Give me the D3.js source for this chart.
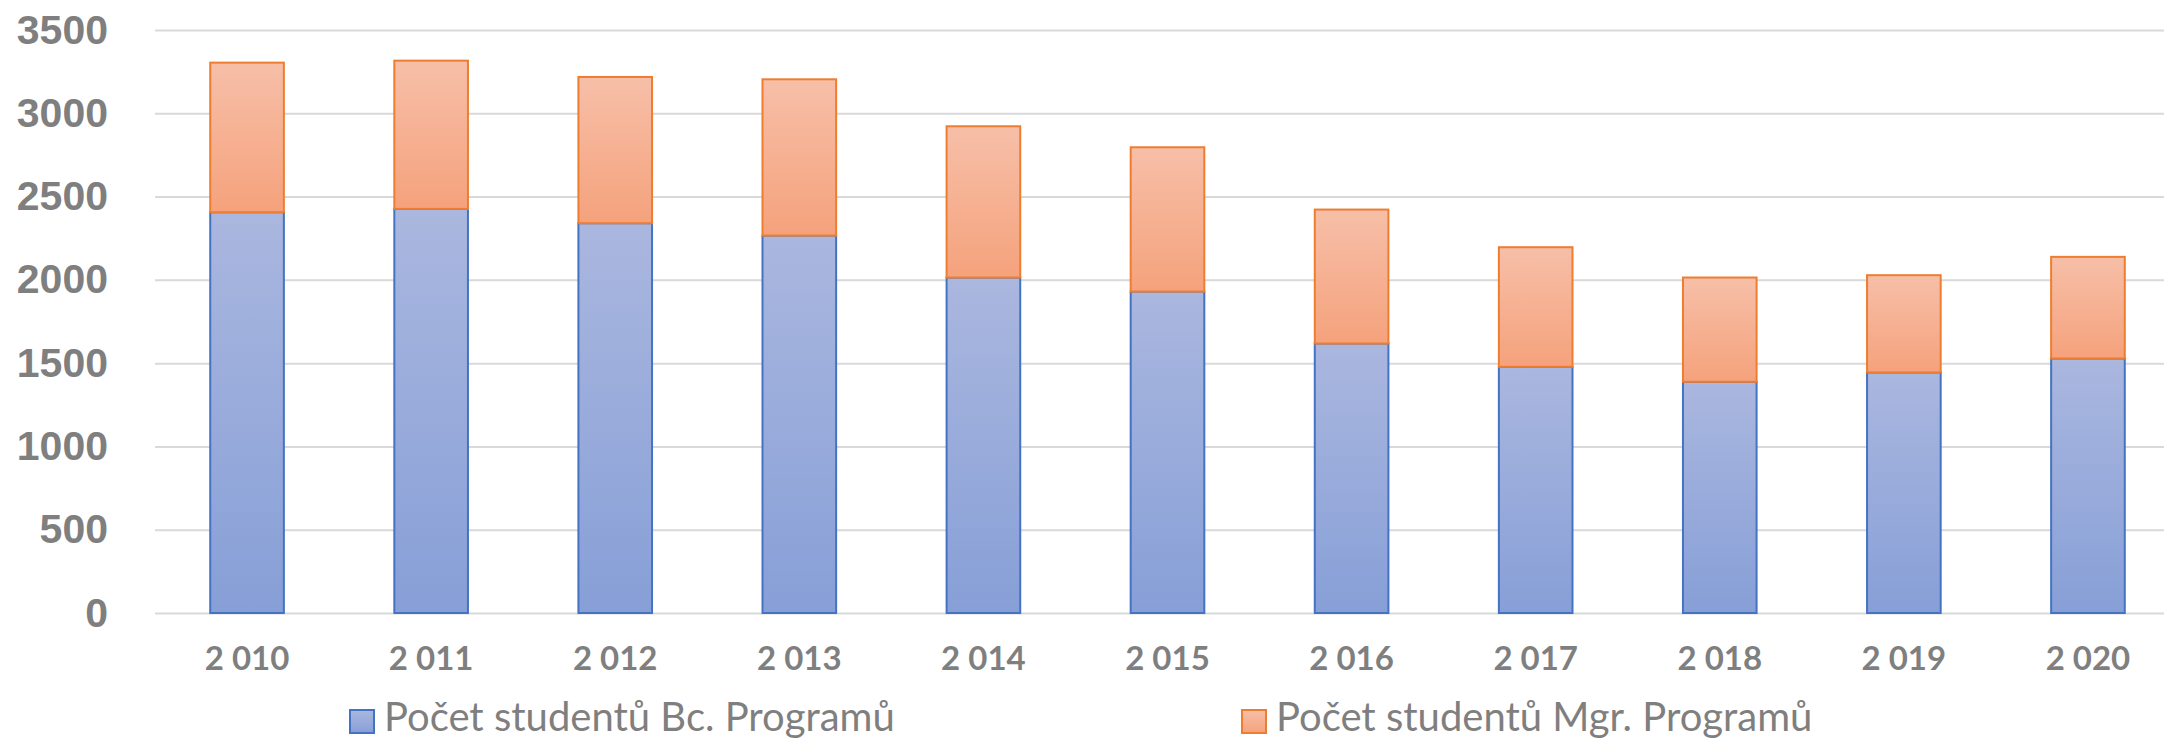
<!DOCTYPE html>
<html>
<head>
<meta charset="utf-8">
<script src="https://cdn.jsdelivr.net/npm/d3@7/dist/d3.min.js"></script>
<style>
  body { margin: 0; background: #fff; }
  .y-axis text { font-family: "Liberation Sans", Arial, sans-serif; font-weight: bold; font-size: 41px; fill: #7f7f7f; }
  .x-axis text { font-family: Lato, "Open Sans", sans-serif; font-weight: bold; font-size: 33px; fill: #7f7f7f; }
  .legend text { font-family: Lato, "Open Sans", sans-serif; font-size: 40px; fill: #7f7f7f; }
</style>
</head>
<body>
<svg id="chart"></svg>
<script>
// values
const years = ['2 010', '2 011', '2 012', '2 013', '2 014', '2 015', '2 016', '2 017', '2 018', '2 019', '2 020'];
const bcStudents = [2406, 2426, 2340, 2266, 2014, 1930, 1618, 1478, 1388, 1444, 1528];
const mgrStudents = [898, 890, 878, 938, 908, 866, 804, 718, 626, 584, 610];
const seriesKeys = ['bc', 'mgr'];
const seriesNames = ['Počet studentů Bc. Programů', 'Počet studentů Mgr. Programů'];
const yTicks = [0, 500, 1000, 1500, 2000, 2500, 3000, 3500];

class StackedStudents {

  constructor(_config) {
    this.config = {
      parentElement: _config.parentElement,
      containerWidth: _config.containerWidth || 2164,
      containerHeight: _config.containerHeight || 741,
      margin: { top: 30, bottom: 128, left: 155 }
    }
    this.initVis();
  }

  initVis() {
    let vis = this;

    vis.height = vis.config.containerHeight - vis.config.margin.top - vis.config.margin.bottom;
    // the category axis runs past the right edge in the original screenshot
    vis.width = 2025;
    vis.gridWidth = vis.config.containerWidth - vis.config.margin.left;

    vis.svg = d3.select('#' + vis.config.parentElement)
        .attr('width', vis.config.containerWidth)
        .attr('height', vis.config.containerHeight);

    // gradients like the excel fill
    const defs = vis.svg.append('defs');
    const grads = [
      { id: 'grad-bc', top: '#aab7df', bottom: '#879fd7' },
      { id: 'grad-mgr', top: '#f7bfa8', bottom: '#f5a27c' }
    ];
    grads.forEach(g => {
      const lg = defs.append('linearGradient')
          .attr('id', g.id)
          .attr('x1', 0).attr('y1', 0).attr('x2', 0).attr('y2', 1);
      lg.append('stop').attr('offset', '0%').attr('stop-color', g.top);
      lg.append('stop').attr('offset', '100%').attr('stop-color', g.bottom);
    });
    vis.fills = { bc: 'url(#grad-bc)', mgr: 'url(#grad-mgr)' };
    vis.strokes = { bc: '#4472c4', mgr: '#ed7d31' };

    vis.chart = vis.svg.append('g')
        .attr('transform', `translate(${vis.config.margin.left},${vis.config.margin.top})`);

    vis.xScale = d3.scaleBand()
        .domain(years)
        .range([0, vis.width])
        .paddingInner(0.6)
        .paddingOuter(0.3);

    vis.yScale = d3.scaleLinear()
        .domain([0, 3500])
        .range([vis.height, 0]);

    // y axis doubles as the gridlines
    vis.yAxis = d3.axisLeft(vis.yScale)
        .tickValues(yTicks)
        .tickFormat(d3.format('d'))
        .tickSizeInner(-vis.gridWidth)
        .tickSizeOuter(0)
        .tickPadding(47);

    vis.yAxisG = vis.chart.append('g')
        .attr('class', 'axis y-axis')
        .call(vis.yAxis);
    vis.yAxisG.select('.domain').remove();
    vis.yAxisG.selectAll('line')
        .attr('stroke', '#d9d9d9')
        .attr('stroke-width', 2);

    vis.xAxis = d3.axisBottom(vis.xScale)
        .tickSize(0)
        .tickPadding(34);

    vis.xAxisG = vis.chart.append('g')
        .attr('class', 'axis x-axis')
        .attr('transform', `translate(0,${vis.height})`)
        .call(vis.xAxis);
    vis.xAxisG.select('.domain').remove();

    vis.updateVis();
  }

  updateVis() {
    let vis = this;

    vis.data = years.map((y, i) => ({ year: y, bc: bcStudents[i], mgr: mgrStudents[i] }));
    vis.stacked = d3.stack().keys(seriesKeys)(vis.data);

    vis.renderVis();
  }

  renderVis() {
    let vis = this;

    const layers = vis.chart.selectAll('.layer')
        .data(vis.stacked)
      .join('g')
        .attr('class', 'layer')
        .attr('fill', d => vis.fills[d.key])
        .attr('stroke', d => vis.strokes[d.key])
        .attr('stroke-width', 2);

    layers.selectAll('rect')
        .data(d => d)
      .join('rect')
        .attr('x', d => vis.xScale(d.data.year))
        .attr('width', vis.xScale.bandwidth())
        .attr('y', d => vis.yScale(d[1]))
        .attr('height', d => vis.yScale(d[0]) - vis.yScale(d[1]));

    // legend
    const legendX = [350, 1242];
    const legend = vis.svg.append('g')
        .attr('class', 'legend');

    seriesKeys.forEach((k, i) => {
      legend.append('rect')
          .attr('x', legendX[i])
          .attr('y', 710)
          .attr('width', 24)
          .attr('height', 23)
          .attr('fill', vis.fills[k])
          .attr('stroke', vis.strokes[k])
          .attr('stroke-width', 2);
      legend.append('text')
          .attr('x', legendX[i] + 34)
          .attr('y', 731)
          .text(seriesNames[i]);
    });
  }
}

let chart = new StackedStudents({ parentElement: 'chart' });
</script>
</body>
</html>
